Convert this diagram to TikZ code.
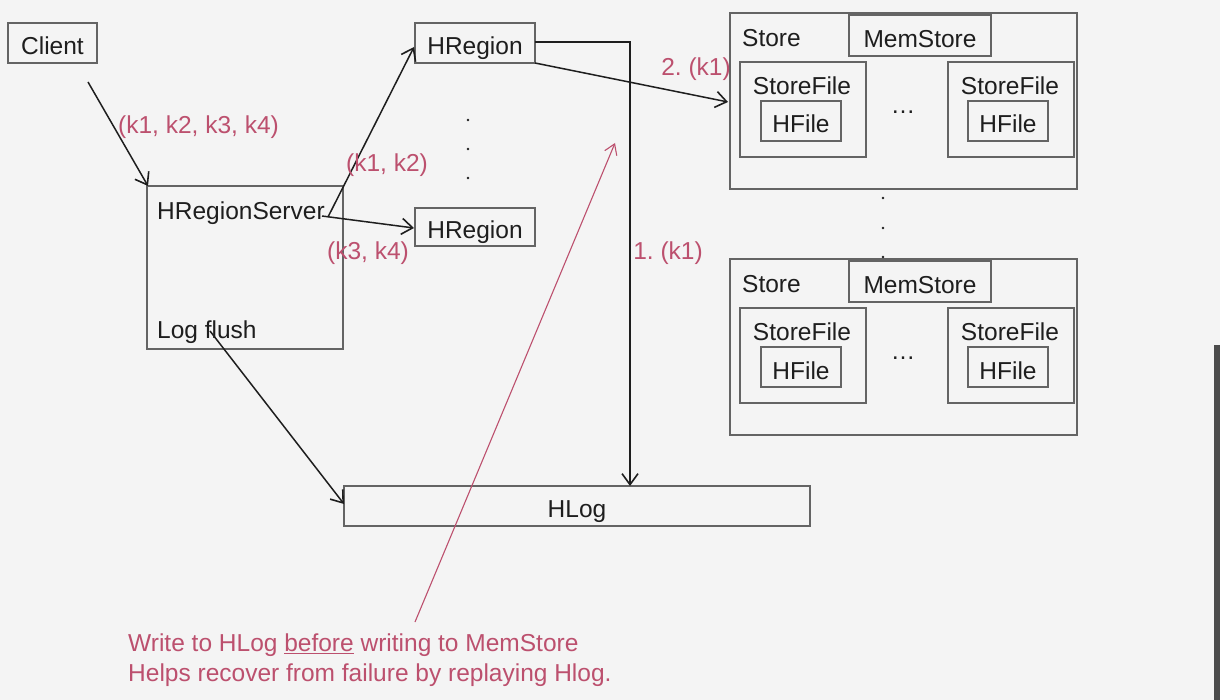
\documentclass[tikz,border=0pt]{standalone}
\usepackage{fontspec}
\setmainfont{Liberation Sans}
\usetikzlibrary{arrows.meta}
\definecolor{bg}{RGB}{244,244,244}
\definecolor{redtxt}{RGB}{188,80,110}
\definecolor{boxc}{RGB}{100,100,100}
\definecolor{ink}{RGB}{30,30,30}
\begin{document}
\begin{tikzpicture}[x=1pt,y=-1pt,
  box/.style={draw=boxc,line width=1.5pt,inner sep=0pt,font=\fontsize{24.5}{28}\selectfont,text=ink,text height=24pt,text depth=0pt},
  lbl/.style={font=\fontsize{24.5}{28}\selectfont,inner sep=0pt,text=ink,text height=17pt,text depth=0pt},
  rlbl/.style={font=\fontsize{24.5}{28}\selectfont,inner sep=0pt,text=redtxt,text height=17pt,text depth=0pt},
  arr/.style={draw=ink,line width=1.5pt,-{Straight Barb[length=11pt,width=16pt,line width=1.6pt]}},
  rarr/.style={draw=redtxt,line width=1.1pt,-{Straight Barb[length=10pt,width=13pt,line width=1.1pt]}},
  dotn/.style={circle,fill=ink,inner sep=0pt,minimum size=2.8pt},
]
\fill[bg] (0,0) rectangle (1220,700);
\useasboundingbox (0,0) rectangle (1220,700);

% left side
\node[box,minimum width=89pt,minimum height=40pt] (client) at (52.5,43) {Client};
\node[box,minimum width=196pt,minimum height=163pt] (server) at (245,267.5) {};
\node[lbl,anchor=west] (srvtxt) at (157,211) {HRegionServer};
\node[lbl,anchor=west] (logtxt) at (157,330) {Log flush};
\node[box,minimum width=120pt,minimum height=40pt] (hr1) at (475,43) {HRegion};
\node[box,minimum width=120pt,minimum height=38pt] (hr2) at (475,227) {HRegion};
\node[box,minimum width=466pt,minimum height=40pt] (hlog) at (577,506) {};
\node[lbl] (hlogtxt) at (577,509) {HLog};

\node[dotn] (d1) at (468,120) {};
\node[dotn] (d2) at (468,149) {};
\node[dotn] (d3) at (468,178) {};

% stores
\foreach \i/\dy in {1/0,2/246}{
  \node[box,minimum width=347pt,minimum height=176pt] (st\i) at (903.5,101+\dy) {};
  \node[lbl,anchor=west] (sttxt\i) at (742,38+\dy) {Store};
  \node[box,minimum width=142pt,minimum height=41pt] (ms\i) at (920,35.5+\dy) {MemStore};
  \node[box,minimum width=126pt,minimum height=95pt] (sfl\i) at (803,109.5+\dy) {};
  \node[lbl] (sfltxt\i) at (802,86+\dy) {StoreFile};
  \node[box,minimum width=80pt,minimum height=40pt] (hfl\i) at (801,121+\dy) {HFile};
  \node[box,minimum width=126pt,minimum height=95pt] (sfr\i) at (1011,109.5+\dy) {};
  \node[lbl] (sfrtxt\i) at (1010,86+\dy) {StoreFile};
  \node[box,minimum width=80pt,minimum height=40pt] (hfr\i) at (1008,121+\dy) {HFile};
  \node[lbl] (ell\i) at (903,105+\dy) {\dots};
}
\node[dotn] (e1) at (883,198) {};
\node[dotn] (e2) at (883,228) {};
\node[dotn] (e3) at (883,257) {};

% connectors
\coordinate (cstart) at (88,82);
\coordinate (cend) at (148,186);
\draw[arr] (cstart) -- (cend);
\node[rlbl,anchor=west] (lab1) at (118,125) {(k1, k2, k3, k4)};

\coordinate (sA) at (328,217);
\coordinate (hr1in) at (414,47);
\draw[arr] (sA) -- (hr1in);
\node[rlbl] (lab2) at (387,163) {(k1, k2)};

\coordinate (sB) at (322,216);
\coordinate (hr2in) at (414,228);
\draw[arr] (sB) -- (hr2in);
\node[rlbl] (lab3) at (368,251) {(k3, k4)};

\coordinate (hrout) at (535,42);
\coordinate (bend) at (630,42);
\coordinate (hlogin) at (630,486);
\draw[arr] (hrout) -- (bend) -- (hlogin);
\node[rlbl] (lab4) at (668,251) {1.\ (k1)};

\coordinate (hrout2) at (535,63);
\coordinate (stin) at (728,102);
\draw[arr] (hrout2) -- (stin);
\node[rlbl] (lab5) at (696,67) {2.\ (k1)};

\coordinate (lf) at (210,331);
\coordinate (hlogw) at (344,504);
\draw[arr] (lf) -- (hlogw);

\coordinate (rstart) at (415,622);
\coordinate (rend) at (615,143);
\draw[rarr] (rstart) -- (rend);

\node[rlbl,anchor=west] (note1) at (128,643) {Write to HLog \underline{before} writing to MemStore};
\node[rlbl,anchor=west] (note2) at (128,673) {Helps recover from failure by replaying Hlog.};

% right edge bar
\fill[black!70] (1214,345) rectangle (1220,700);
\end{tikzpicture}
\end{document}
